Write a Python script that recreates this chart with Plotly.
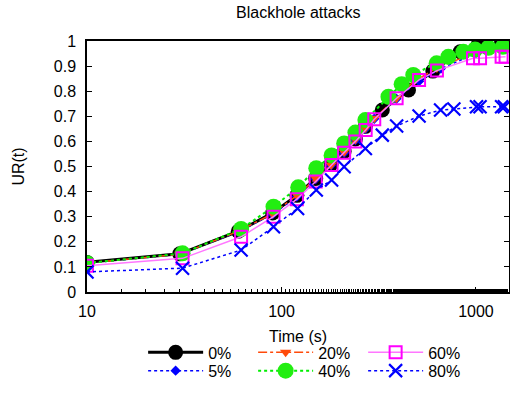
import plotly.graph_objects as go

# ---- data ----
x_0 = [10, 30, 60, 90, 120, 150, 180, 210, 240, 270, 330, 450, 600, 830, 1025, 1355]
y_0 = [0.118, 0.152, 0.242, 0.315, 0.385, 0.452, 0.51, 0.56, 0.61, 0.66, 0.725, 0.805, 0.88, 0.957, 0.984, 0.993]

x_5 = [10, 30, 60, 90, 120, 150, 180, 210, 240, 270, 300, 390, 510, 660, 1000, 1380]
y_5 = [0.115, 0.15, 0.24, 0.31, 0.38, 0.45, 0.505, 0.555, 0.605, 0.65, 0.69, 0.77, 0.84, 0.89, 0.95, 0.97]

x_20 = [10, 30, 60, 90, 120, 150, 180, 210, 240, 270, 300, 390, 480, 630, 1000, 1380]
y_20 = [0.116, 0.15, 0.242, 0.312, 0.385, 0.452, 0.506, 0.558, 0.608, 0.652, 0.692, 0.772, 0.84, 0.892, 0.955, 0.972]

x_40 = [10, 31, 62, 91, 122, 151, 181, 210, 240, 270, 355, 415, 476, 628, 721, 861, 989, 1160, 1377]
y_40 = [0.115, 0.154, 0.251, 0.34, 0.417, 0.493, 0.544, 0.592, 0.635, 0.685, 0.778, 0.828, 0.865, 0.911, 0.937, 0.957, 0.966, 0.973, 0.977]

x_60 = [10, 31, 62, 91, 120, 150, 181, 210, 240, 271, 300, 391, 510, 630, 966, 1050, 1355, 1420]
y_60 = [0.105, 0.134, 0.22, 0.30, 0.37, 0.44, 0.506, 0.555, 0.60, 0.645, 0.688, 0.772, 0.845, 0.882, 0.931, 0.931, 0.937, 0.937]

x_80 = [10, 31, 62, 91, 121, 151, 181, 210, 270, 330, 391, 510, 658, 770, 1007, 1050, 1355, 1400]
y_80 = [0.08, 0.095, 0.167, 0.26, 0.333, 0.406, 0.446, 0.499, 0.572, 0.625, 0.661, 0.701, 0.725, 0.729, 0.738, 0.738, 0.738, 0.738]

x_ticks = [10, 100, 1000]
y_ticks = [0, 0.1, 0.2, 0.3, 0.4, 0.5, 0.6, 0.7, 0.8, 0.9, 1]

FONT = "Liberation Sans, Arial, sans-serif"
FS = 16

fig = go.Figure()

# drawing order: 0%, 5%, 20%, 40%, 60%, 80%
fig.add_trace(go.Scatter(x=x_0, y=y_0, name="0%", mode="lines+markers",
                         line=dict(color="black", width=3),
                         marker=dict(symbol="circle", size=15, color="black"),
                         legend="legend", legendrank=1))
fig.add_trace(go.Scatter(x=x_5, y=y_5, name="5%", mode="lines+markers",
                         line=dict(color="#0000ff", width=1.5, dash="dot"),
                         marker=dict(symbol="diamond", size=8, color="#0000ff"),
                         legend="legend2", legendrank=1))
fig.add_trace(go.Scatter(x=x_20, y=y_20, name="20%", mode="lines+markers",
                         line=dict(color="#ff4a0a", width=1.5, dash="dashdot"),
                         marker=dict(symbol="triangle-down", size=10, color="#ff4a0a"),
                         legend="legend", legendrank=2))
fig.add_trace(go.Scatter(x=x_40, y=y_40, name="40%", mode="lines+markers",
                         line=dict(color="#00ee00", width=2, dash="dot"),
                         marker=dict(symbol="circle", size=16, color="#22ee11"),
                         legend="legend2", legendrank=2))
fig.add_trace(go.Scatter(x=x_60, y=y_60, name="60%", mode="lines+markers",
                         line=dict(color="#ff77ff", width=1.5),
                         marker=dict(symbol="square-open", size=12, color="#ff00ff",
                                     line=dict(width=2)),
                         legend="legend", legendrank=3))
fig.add_trace(go.Scatter(x=x_80, y=y_80, name="80%", mode="lines+markers",
                         line=dict(color="#0000ff", width=1.5, dash="dot"),
                         marker=dict(symbol="x-thin-open", size=13, color="#0000ff",
                                     line=dict(width=2.2, color="#0000ff")),
                         legend="legend2", legendrank=3))

axis_common = dict(showline=True, linecolor="black", linewidth=1.5,
                   ticks="inside", ticklen=5, tickcolor="black", showgrid=False,
                   zeroline=False, tickfont=dict(size=FS, color="black"))

fig.update_xaxes(type="log", range=[1, 3.17], tickvals=x_ticks,
                 ticktext=[str(v) for v in x_ticks], mirror=True,
                 minor=dict(ticks="inside", ticklen=3, tickcolor="black", showgrid=False),
                 ticklabelstandoff=4,
                 title=dict(text="Time (s)", font=dict(size=FS, color="black"), standoff=12),
                 **axis_common)
fig.update_yaxes(range=[0, 1], tickvals=y_ticks, ticktext=[f"{v:g}" for v in y_ticks],
                 ticklabelstandoff=6, mirror="ticks",
                 title=dict(text="UR(t)", font=dict(size=FS, color="black"), standoff=25),
                 **axis_common)

legend_common = dict(orientation="h", xanchor="center", x=0.524, yanchor="top",
                     font=dict(size=FS, color="black", family=FONT),
                     bgcolor="rgba(0,0,0,0)", itemwidth=55,
                     entrywidth=40, entrywidthmode="pixels",
                     tracegroupgap=0, itemclick=False)

fig.update_layout(
    width=510, height=394,
    margin=dict(l=87, r=1, t=41, b=102, autoexpand=False),
    paper_bgcolor="white", plot_bgcolor="white",
    font=dict(family=FONT, color="black", size=FS),
    title=dict(text="Blackhole attacks", x=0.585, xanchor="center", y=0.983,
               yanchor="top", font=dict(size=FS, color="black")),
    showlegend=True,
    legend=dict(y=-0.173, **legend_common),
    legend2=dict(y=-0.246, **legend_common),
)

fig.write_html("out.html")
